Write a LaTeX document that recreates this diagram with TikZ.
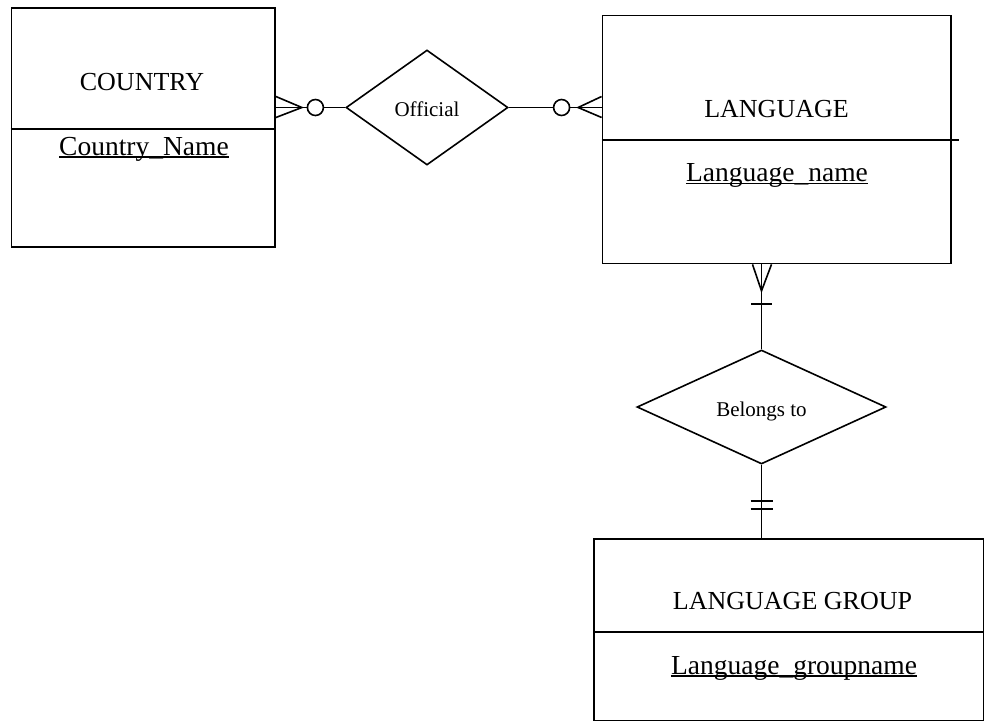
\documentclass[tikz,border=0pt]{standalone}
\usepackage{fontspec}
\setmainfont{Liberation Serif}
\usetikzlibrary{shapes.geometric, calc}

\begin{document}
\begin{tikzpicture}[x=1pt, y=-1pt,
  entity/.style={draw, line width=1.8pt, rectangle, inner sep=0pt},
  relation/.style={draw, line width=1.6pt, shape=diamond, inner sep=0pt,
    text depth=0pt, font=\fontsize{21}{21}\selectfont},
  title/.style={anchor=base, inner sep=0pt, font=\fontsize{26}{26}\selectfont},
  keyattr/.style={anchor=base, inner sep=0pt, font=\fontsize{27.5}{27.5}\selectfont},
  keyline/.style={line width=1.3pt},
  divider/.style={line width=1.8pt},
  link/.style={line width=1.6pt},
  optional/.style={draw, line width=1.6pt, fill=white, circle,
    minimum size=16pt, inner sep=0pt},
]
\useasboundingbox (0,0) rectangle (984,721);

% ---- entities ----
\node[entity, minimum width=263.5pt, minimum height=239pt]   (country)  at (143.25,127.5) {};
\node[entity, minimum width=348.5pt, minimum height=248pt]   (language) at (776.75,139.5) {};
\node[entity, minimum width=389.5pt, minimum height=181.5pt] (group)    at (788.75,629.75) {};

% header / key dividers
\coordinate (cdiv) at (0,129);
\coordinate (ldiv) at (0,140);
\coordinate (ldivend) at (959,140);
\coordinate (gdiv) at (0,632);
\draw[divider] (country.west |- cdiv) -- (country.east |- cdiv);
\draw[divider] (language.west |- ldiv) -- (ldivend);
\draw[divider] (group.west |- gdiv) -- (group.east |- gdiv);

% entity names
\node[title] (countryT) at (142,90.5)  {COUNTRY};
\node[title] (langT)    at (776.5,117) {LANGUAGE};
\node[title] (grpT)     at (792.5,609) {LANGUAGE GROUP};

% primary keys (underlined)
\node[keyattr] (countryK) at (144,155)   {Country\_Name};
\node[keyattr] (langK)    at (777,181.5) {Language\_name};
\node[keyattr] (grpK)     at (794,674)   {Language\_groupname};
\foreach \k in {countryK, langK, grpK}
  \draw[keyline] ([yshift=-2pt]\k.base west) -- ([yshift=-2pt]\k.base east);

% ---- relationships ----
\node[relation, text height=18pt, minimum width=162pt, minimum height=115pt]
  (off) at (427,107.5) {Official};
\node[relation, text height=19pt, minimum width=249pt, minimum height=114pt]
  (bel) at (761.5,407) {Belongs to};

% COUNTRY >o-- Official --o< LANGUAGE
\coordinate (cEnd) at (country.east |- off.west);
\coordinate (lEnd) at (language.west |- off.east);
\draw[link] (cEnd) -- (off.west);
\draw[link] (off.east) -- (lEnd);
\draw[link] ($(cEnd)+(0,-11)$) -- ($(cEnd)+(26,0)$) -- ($(cEnd)+(0,10)$);
\draw[link] ($(lEnd)+(0,-11)$) -- ($(lEnd)+(-23.5,0)$) -- ($(lEnd)+(0,10)$);
\node[optional] (cOpt) at ($(cEnd)+(39.5,0)$) {};
\node[optional] (lOpt) at ($(lEnd)+(-40,0)$) {};

% LANGUAGE >|-- Belongs to --|| LANGUAGE GROUP
\coordinate (bTop) at (bel.north |- language.south);
\coordinate (bBot) at (bel.south |- group.north);
\draw[link] (bTop) -- (bel.north);
\draw[link] (bel.south) -- (bBot);
\draw[link] ($(bTop)+(-9,0)$) -- ($(bTop)+(0,26.5)$) -- ($(bTop)+(10,0)$);
\draw[link] ($(bTop)+(-10.5,39.5)$) -- ($(bTop)+(10.5,39.5)$);
\draw[link] ($(bBot)+(-11,-37)$) -- ($(bBot)+(11,-37)$);
\draw[link] ($(bBot)+(-11,-29)$) -- ($(bBot)+(11,-29)$);
\end{tikzpicture}
\end{document}
